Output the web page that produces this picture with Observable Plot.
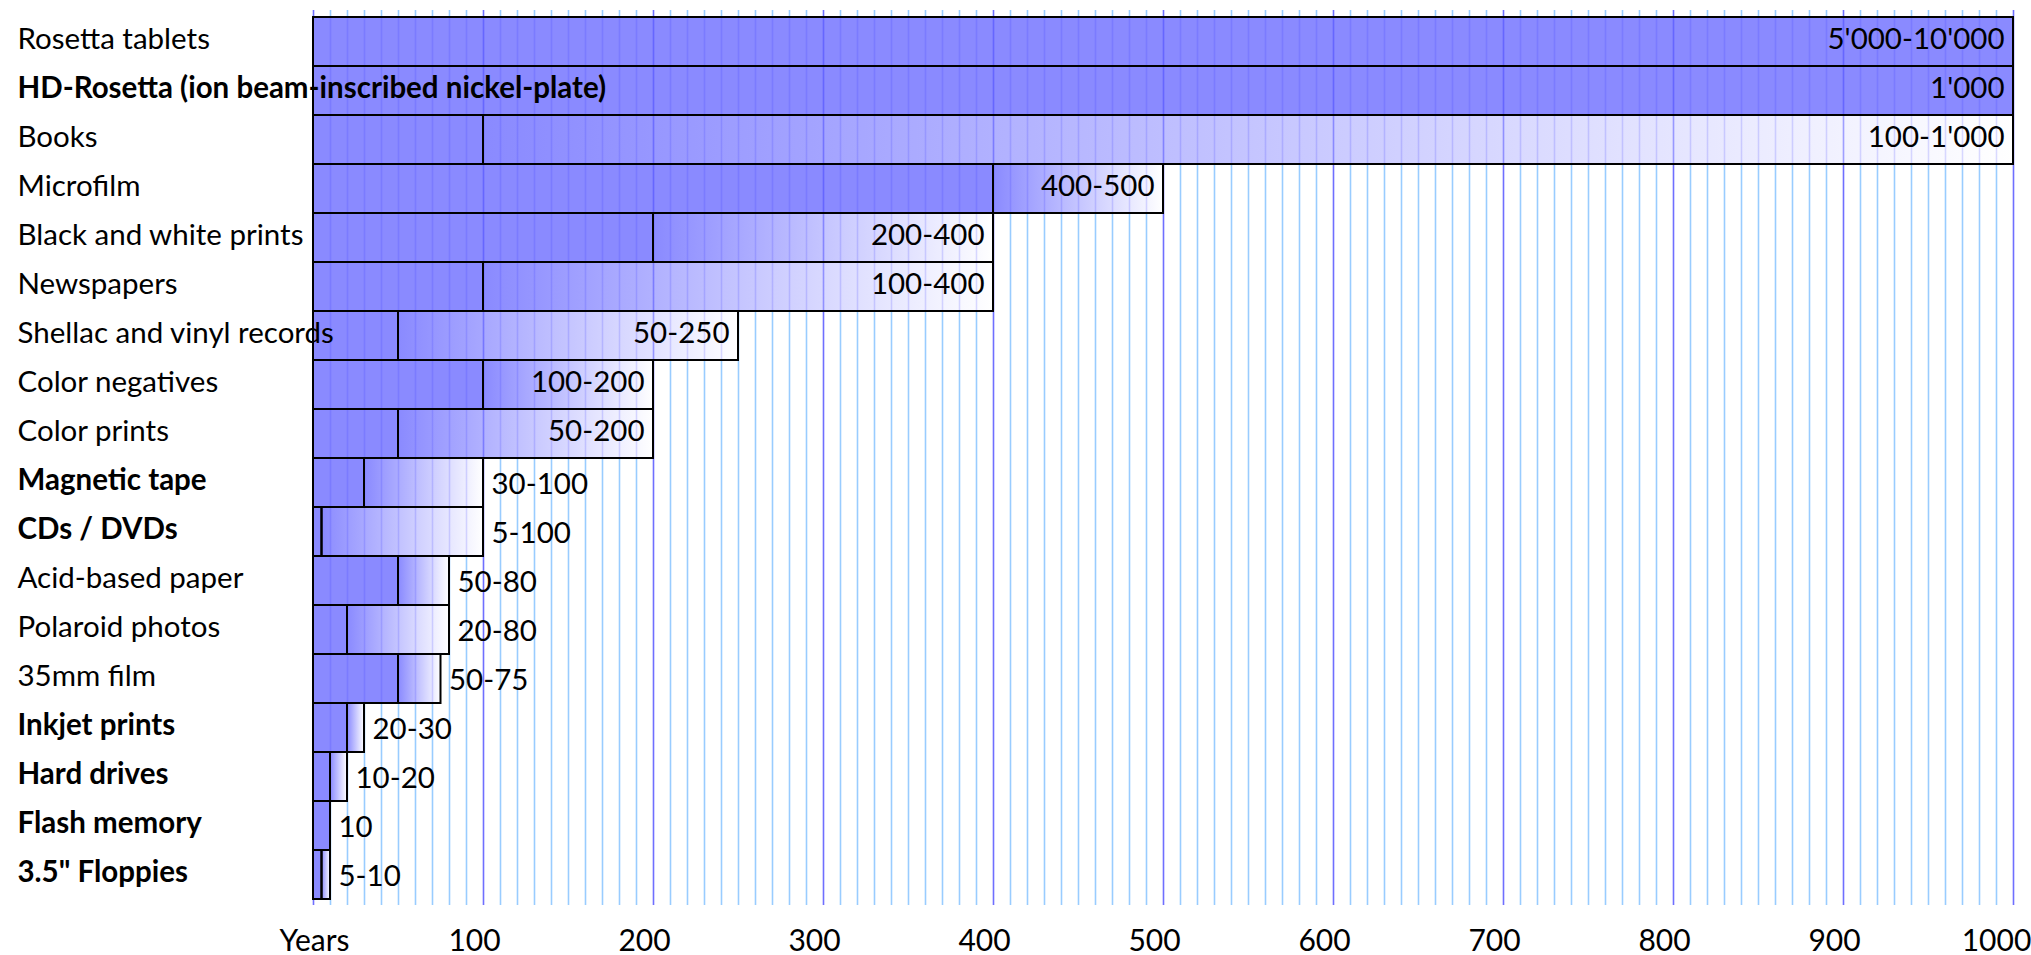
<!DOCTYPE html>
<html><head><meta charset="utf-8">
<script src="https://cdn.jsdelivr.net/npm/d3@7"></script>
<script src="https://cdn.jsdelivr.net/npm/@observablehq/plot@0.6"></script>
<style>
body{margin:0;background:#fff}
svg{display:block}
</style>
</head><body><div id="chart"></div>
<script>
const media = ["Rosetta tablets", "HD-Rosetta (ion beam-inscribed nickel-plate)", "Books", "Microfilm", "Black and white prints", "Newspapers", "Shellac and vinyl records", "Color negatives", "Color prints", "Magnetic tape", "CDs / DVDs", "Acid-based paper", "Polaroid photos", "35mm film", "Inkjet prints", "Hard drives", "Flash memory", "3.5\" Floppies"];
const digital = [false, true, false, false, false, false, false, false, false, true, true, false, false, false, true, true, true, true];
const lowYears = [5000, 1000, 100, 400, 200, 100, 50, 100, 50, 30, 5, 50, 20, 50, 20, 10, 10, 5];
const highYears = [10000, 1000, 1000, 500, 400, 400, 250, 200, 200, 100, 100, 80, 80, 75, 30, 20, 10, 10];
const rangeLabels = ["5'000-10'000", "1'000", "100-1'000", "400-500", "200-400", "100-400", "50-250", "100-200", "50-200", "30-100", "5-100", "50-80", "20-80", "50-75", "20-30", "10-20", "10", "5-10"];
const tickValues = [0, 100, 200, 300, 400, 500, 600, 700, 800, 900, 1000];
const tickLabels = ["Years", "100", "200", "300", "400", "500", "600", "700", "800", "900", "1000"];

const rows = media.map((name, i) => ({name, bold: digital[i], low: lowYears[i], high: highYears[i], label: rangeLabels[i]}));
const ticks = tickValues.map((v, i) => ({v, label: tickLabels[i]}));
const xMax = 1000;
const grid = d3.range(0, xMax + 1, 10);
const overlay = rows.flatMap(r => grid.filter(g => g > 0 && g < Math.min(r.high, xMax)).map(g => ({name: r.name, g, major: g % 100 === 0})));

const FONT = "Lato, 'Open Sans', sans-serif";
const FS = 29.5;
const BAR = "#8a8aff";

const chart = Plot.plot({
  width: 2031,
  height: 955,
  marginLeft: 313,
  marginRight: 18,
  marginTop: 10,
  marginBottom: 50,
  style: {fontFamily: FONT, fontSize: FS + "px", background: "#fff", overflow: "visible"},
  x: {domain: [0, xMax], clamp: true, axis: null},
  y: {domain: media, padding: 0, axis: null},
  marks: [
    Plot.ruleX(grid, {x: d => d, stroke: d => d % 100 === 0 ? "#6f6fff" : "#99ccff", strokeWidth: 1.6}),
    Plot.barX(rows, {y: "name", x1: 0, x2: "low", fill: BAR}),
    Plot.barX(rows, {y: "name", x1: "low", x2: "high", fill: "url(#fade)"}),
    Plot.tickX(overlay, {x: "g", y: "name", stroke: "#3a3aff", strokeOpacity: d => d.major ? 0.45 : 0.18, strokeWidth: 1.6}),
    Plot.barX(rows, {y: "name", x1: 0, x2: "low", fill: "none", stroke: "#000", strokeWidth: 2}),
    Plot.barX(rows, {y: "name", x1: "low", x2: "high", fill: "none", stroke: "#000", strokeWidth: 2}),
    Plot.text(rows, {filter: d => !d.bold, y: "name", frameAnchor: "left", dx: -296, dy: -2, text: "name", textAnchor: "start", fill: "#000"}),
    Plot.text(rows, {filter: d => d.bold, y: "name", frameAnchor: "left", dx: -296, dy: -2, text: "name", textAnchor: "start", fill: "#000", fontWeight: "bold"}),
    Plot.text(rows, {filter: d => d.high >= 200, x: "high", y: "name", text: "label", textAnchor: "end", dx: -9, dy: -2, fill: "#000"}),
    Plot.text(rows, {filter: d => d.high < 200, x: "high", y: "name", text: "label", textAnchor: "start", dx: 8, dy: 2, fill: "#000"}),
    Plot.text(ticks, {filter: d => d.v === 0, x: "v", text: "label", frameAnchor: "bottom", dy: 45, textAnchor: "middle", dx: 1, fill: "#000", fontSize: 30}),
    Plot.text(ticks, {filter: d => d.v > 0 && d.v < xMax, x: "v", text: "label", frameAnchor: "bottom", dy: 45, textAnchor: "middle", dx: -9, fill: "#000", fontSize: 30}),
    Plot.text(ticks, {filter: d => d.v >= xMax, x: "v", text: "label", frameAnchor: "bottom", dy: 45, textAnchor: "middle", dx: -17, fill: "#000", fontSize: 30})
  ]
});

d3.select(chart).insert("defs", ":first-child").html(
  '<linearGradient id="fade" x1="0" x2="1" y1="0" y2="0">' +
  '<stop offset="0" stop-color="' + BAR + '"/>' +
  '<stop offset="1" stop-color="#ffffff"/></linearGradient>');

document.getElementById("chart").appendChild(chart);
</script>
</body></html>
